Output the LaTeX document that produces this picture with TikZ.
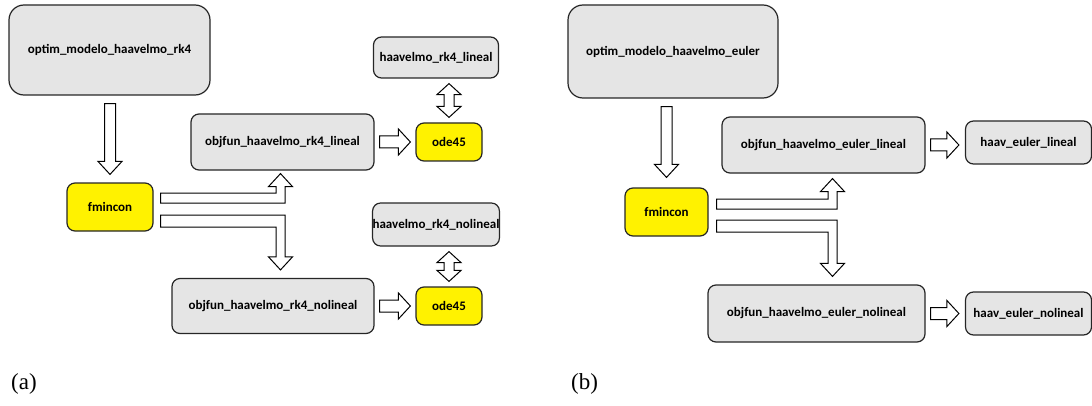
\documentclass[tikz,border=0pt]{standalone}
\usepackage{fontspec}
\setmainfont{Liberation Serif}
\newfontfamily\boxfont{Carlito}
\usetikzlibrary{calc}
\tikzset{
  box/.style={draw=black!85, fill=black!10, line width=1.2pt, rounded corners=8pt,
    font=\boxfont\bfseries\fontsize{13}{15}\selectfont, inner sep=0pt, align=center},
  bigbox/.style={box, rounded corners=15pt},
  ybox/.style={box, fill=yellow},
  blk/.style={draw=black, fill=white, line width=1pt, line join=miter},
  lab/.style={font=\fontsize{23}{26}\selectfont, anchor=west, inner sep=0pt}
}
% horizontal block arrow, #1 start, #2 tip
\newcommand{\harrow}[2]{\draw[blk] let \p1=#1, \p2=#2 in
  (\x1,\y1+6pt) -- (\x2-12pt,\y1+6pt) -- (\x2-12pt,\y1+13pt) -- (\x2,\y1)
  -- (\x2-12pt,\y1-13pt) -- (\x2-12pt,\y1-6pt) -- (\x1,\y1-6pt) -- cycle;}
% vertical down block arrow, #1 top, #2 tip
\newcommand{\varrow}[2]{\draw[blk] let \p1=#1, \p2=#2 in
  (\x1-5.5pt,\y1) -- (\x1+5.5pt,\y1) -- (\x1+5.5pt,\y2+13pt) -- (\x1+12pt,\y2+13pt)
  -- (\x1,\y2) -- (\x1-12pt,\y2+13pt) -- (\x1-5.5pt,\y2+13pt) -- cycle;}
% double vertical block arrow, #1 top tip, #2 bottom tip
\newcommand{\dvarrow}[2]{\draw[blk] let \p1=#1, \p2=#2 in
  (\x1,\y1) -- (\x1+12pt,\y1-11pt) -- (\x1+5pt,\y1-11pt) -- (\x1+5pt,\y2+11pt)
  -- (\x1+12pt,\y2+11pt) -- (\x1,\y2) -- (\x1-12pt,\y2+11pt) -- (\x1-5pt,\y2+11pt)
  -- (\x1-5pt,\y1-11pt) -- (\x1-12pt,\y1-11pt) -- cycle;}
% bent up arrow, #1 start of strip (centre), #2 tip
\newcommand{\bentup}[2]{\draw[blk] let \p1=#1, \p2=#2 in
  (\x1,\y1+5pt) -- (\x2-4.5pt,\y1+5pt) -- (\x2-4.5pt,\y2-13pt) -- (\x2-12pt,\y2-13pt)
  -- (\x2,\y2) -- (\x2+12pt,\y2-13pt) -- (\x2+4.5pt,\y2-13pt) -- (\x2+4.5pt,\y1-5pt)
  -- (\x1,\y1-5pt) -- cycle;}
% bent down arrow
\newcommand{\bentdown}[2]{\draw[blk] let \p1=#1, \p2=#2 in
  (\x1,\y1+6pt) -- (\x2+4.5pt,\y1+6pt) -- (\x2+4.5pt,\y2+13pt) -- (\x2+12pt,\y2+13pt)
  -- (\x2,\y2) -- (\x2-12pt,\y2+13pt) -- (\x2-4.5pt,\y2+13pt) -- (\x2-4.5pt,\y1-6pt)
  -- (\x1,\y1-6pt) -- cycle;}
\begin{document}
\begin{tikzpicture}[x=1pt,y=1pt]
\useasboundingbox (0,0) rectangle (1092,405);
% ---------- panel (a)
\node[bigbox, minimum width=201pt, minimum height=90pt] (opt) at (109.5,355) {optim\_modelo\_haavelmo\_rk4};
\node[ybox, minimum width=86pt, minimum height=48pt] (fmin) at (110,198) {fmincon};
\node[box, minimum width=183pt, minimum height=56pt] (obj1) at (282.5,263) {objfun\_haavelmo\_rk4\_lineal};
\node[ybox, minimum width=66pt, minimum height=38pt] (ode1) at (449,263) {ode45};
\node[box, minimum width=125pt, minimum height=41pt] (hv1) at (436,347.5) {haavelmo\_rk4\_lineal};
\node[box, minimum width=125pt, minimum height=43pt] (hv2) at (436,180.5) {haavelmo\_rk4\_nolineal};
\node[ybox, minimum width=66pt, minimum height=38pt] (ode2) at (449,99) {ode45};
\node[box, minimum width=202pt, minimum height=55pt] (obj2) at (273,99) {objfun\_haavelmo\_rk4\_nolineal};

\varrow{($(fmin.north |- opt.south)+(0,-8)$)}{($(fmin.north)+(0,8)$)}
\harrow{($(obj1.east)+(5,0)$)}{($(ode1.west |- obj1.east)+(-5,0)$)}
\harrow{($(obj2.east)+(5,0)$)}{($(ode2.west |- obj2.east)+(-5,0)$)}
\dvarrow{($(ode1.north |- hv1.south)+(0,-5)$)}{($(ode1.north)+(0,5)$)}
\dvarrow{($(ode2.north |- hv2.south)+(0,-5)$)}{($(ode2.north)+(0,5)$)}
\bentup{($(fmin.east)+(7,9)$)}{($(obj1.south)+(-2,-3)$)}
\bentdown{($(fmin.east)+(7,-14)$)}{($(obj2.north)+(7.5,8)$)}

% ---------- panel (b)
\node[bigbox, minimum width=210pt, minimum height=93pt] (optb) at (673,353.5) {optim\_modelo\_haavelmo\_euler};
\node[ybox, minimum width=83pt, minimum height=48pt] (fminb) at (666.5,193) {fmincon};
\node[box, minimum width=203pt, minimum height=56pt] (obj3) at (823.5,260) {objfun\_haavelmo\_euler\_lineal};
\node[box, minimum width=126pt, minimum height=43pt] (he1) at (1028.5,262.5) {haav\_euler\_lineal};
\node[box, minimum width=217pt, minimum height=57pt] (obj4) at (816.5,91.5) {objfun\_haavelmo\_euler\_nolineal};
\node[box, minimum width=126pt, minimum height=43pt] (he2) at (1028.5,91.5) {haav\_euler\_nolineal};

\varrow{($(fminb.north |- optb.south)+(0,-8)$)}{($(fminb.north)+(0,10)$)}
\harrow{($(obj3.east)+(5,0)$)}{($(he1.west |- obj3.east)+(-6,0)$)}
\harrow{($(obj4.east)+(5,0)$)}{($(he2.west |- obj4.east)+(-6,0)$)}
\bentup{($(fminb.east)+(8,8)$)}{($(obj3.south)+(9,-5)$)}
\bentdown{($(fminb.east)+(8,-14)$)}{($(obj4.north)+(16,8)$)}

% ---------- labels
\node[lab] (la) at (11,21) {(a)};
\node[lab] (lb) at (571,21) {(b)};
\end{tikzpicture}
\end{document}
